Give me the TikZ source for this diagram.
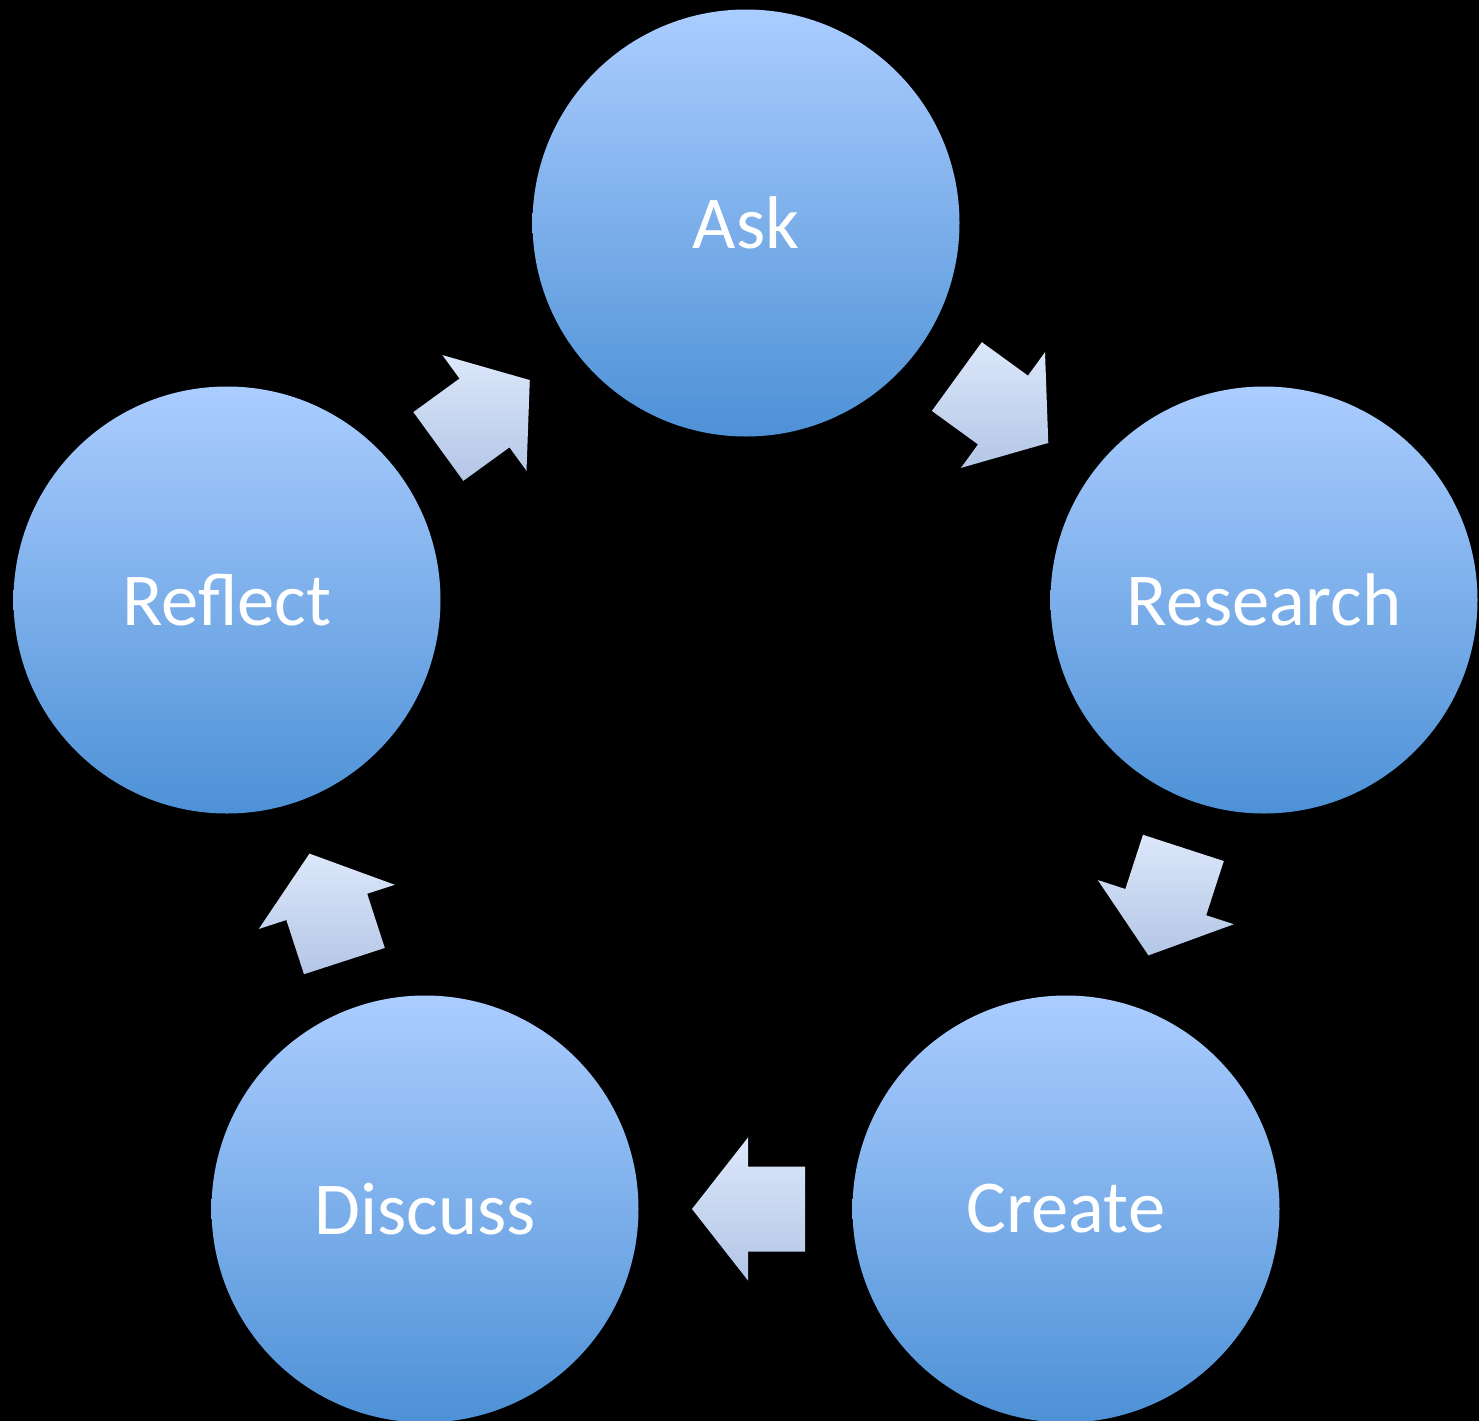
\documentclass[tikz,border=0pt]{standalone}
\usepackage{fontspec}
\setmainfont{Carlito}
\usetikzlibrary{calc}

\definecolor{circtop}{RGB}{171,205,255}
\definecolor{circmid}{RGB}{132,180,238}
\definecolor{circbot}{RGB}{77,145,214}
\definecolor{arrtop}{RGB}{220,231,250}
\definecolor{arrbot}{RGB}{179,198,230}

\tikzset{every picture/.style={line width=0.75pt}}
\tikzset{
  stage/.style={circle, minimum size=320.25pt, inner sep=0pt,
    top color=circtop, middle color=circmid, bottom color=circbot,
    text=white, font=\fontsize{56}{66}\selectfont},
  flowarrow/.style={top color=arrtop, bottom color=arrbot}
}

\begin{document}
\begin{tikzpicture}[x=0.75pt,y=0.75pt,yscale=-1,xscale=1]
%background, 1479 x 1421
\fill[black] (0,0) rectangle (1479,1421);
\useasboundingbox (0,0) rectangle (1479,1421);

% Circles
\node[stage] (ask) at (746,223) {Ask};
\node[stage] (research) at (1264,600) {Research};
\node[stage] (create) at (1066,1209) {Create};
\node[stage] (discuss) at (425,1209) {Discuss};
\node[stage] (reflect) at (227,600) {Reflect};

% Block Arrows, halfway between two circles
\foreach \from/\to/\ang in {ask/research/36, research/create/108, create/discuss/180, discuss/reflect/252, reflect/ask/324}{
  \coordinate (mid-\from) at ($(\from)!0.5!(\to)$);
  \begin{scope}[shift={(mid-\from)}, rotate=\ang]
    \fill[flowarrow] (-59.5,-42.5) -- (-2.5,-42.5) -- (-2.5,-71.5) -- (53.5,0) -- (-2.5,71.5) -- (-2.5,42.5) -- (-59.5,42.5) -- cycle;
  \end{scope}
}

\end{tikzpicture}
\end{document}
